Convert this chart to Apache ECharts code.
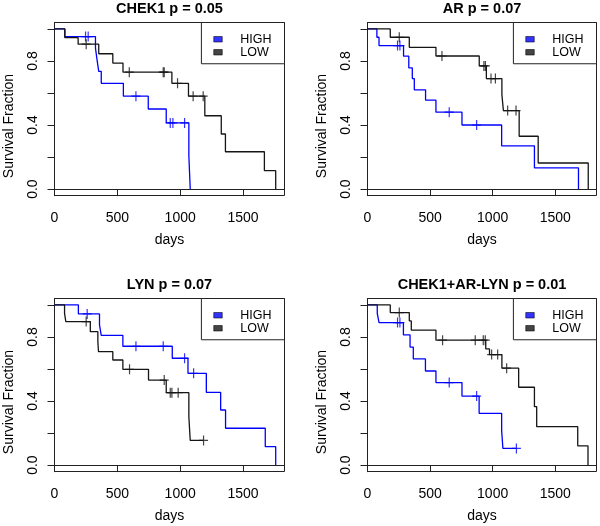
<!DOCTYPE html>
<html><head><meta charset="utf-8">
<script src="https://cdn.jsdelivr.net/npm/echarts@6/dist/echarts.min.js"></script>
<style>html,body{margin:0;padding:0;background:#fff}#c{width:600px;height:526px}</style>
</head><body><div id="c"></div>
<script>
// ---- data (days, survival fraction, censor times) ----
const chek1HighTime = [0, 82, 326, 338, 352, 372, 548, 746, 889, 1069, 1080];
const chek1HighSurv = [1, 0.952, 0.88, 0.81, 0.735, 0.66, 0.58, 0.50, 0.413, 0.208, 0];
const chek1HighCens = [247, 268, 648, 921, 942, 1035];
const chek1LowTime = [0, 82, 188, 352, 464, 545, 934, 1066, 1196, 1327, 1360, 1670, 1760];
const chek1LowSurv = [1, 0.945, 0.905, 0.845, 0.787, 0.73, 0.66, 0.58, 0.458, 0.344, 0.233, 0.115, 0];
const chek1LowCens = [252, 595, 865, 873, 979, 1103, 1183];

const arHighTime = [0, 75, 92, 288, 330, 358, 374, 464, 547, 755, 1072, 1334, 1686];
const arHighSurv = [1, 0.948, 0.896, 0.83, 0.757, 0.69, 0.62, 0.555, 0.48, 0.40, 0.27, 0.133, 0];
const arHighCens = [240, 259, 653, 872];
const arLowTime = [0, 182, 334, 547, 893, 950, 1074, 1086, 1212, 1364, 1764];
const arLowSurv = [1, 0.948, 0.885, 0.831, 0.769, 0.69, 0.59, 0.49, 0.33, 0.163, 0];
const arLowCens = [254, 595, 930, 942, 987, 1022, 1120, 1187];

const lynHighTime = [0, 190, 358, 372, 544, 937, 1062, 1208, 1322, 1361, 1677, 1760];
const lynHighSurv = [1, 0.944, 0.875, 0.81, 0.742, 0.667, 0.573, 0.454, 0.344, 0.23, 0.115, 0];
const lynHighCens = [260, 648, 865, 1035, 1107];
const lynLowTime = [0, 80, 90, 285, 345, 350, 464, 544, 748, 889, 1069, 1080, 1186];
const lynLowSurv = [1, 0.947, 0.896, 0.833, 0.77, 0.708, 0.656, 0.598, 0.531, 0.452, 0.302, 0.154, 0.154];
const lynLowCens = [252, 597, 873, 921, 934, 984, 1186];

const comboHighTime = [0, 78, 92, 287, 340, 366, 463, 547, 755, 892, 1072, 1082, 1190];
const comboHighSurv = [1, 0.947, 0.89, 0.8125, 0.737, 0.6625, 0.5875, 0.515, 0.431, 0.323, 0.215, 0.104, 0.104];
const comboHighCens = [240, 259, 653, 872, 1190];
const comboLowTime = [0, 182, 334, 350, 547, 945, 975, 1074, 1208, 1334, 1352, 1680, 1762];
const comboLowSurv = [1, 0.952, 0.9, 0.842, 0.78, 0.725, 0.69, 0.605, 0.486, 0.365, 0.24, 0.12, 0];
const comboLowCens = [254, 600, 861, 925, 941, 992, 1040, 1112];

const panelTitles = ['CHEK1 p = 0.05', 'AR p = 0.07', 'LYN p = 0.07', 'CHEK1+AR-LYN p = 0.01'];
const groupNames = ['HIGH', 'LOW'];
const xTicks = [0, 500, 1000, 1500];
const yTicks = [0, 0.2, 0.4, 0.6, 0.8, 1.0];
const yTickLabels = [0, 0.4, 0.8];
const xName = 'days';
const yName = 'Survival Fraction';

// ---- layout / style ----
const FONT = '"Liberation Sans", Arial, Helvetica, sans-serif';
const colors = ['#0000ff', '#151515'];
const grids = [
  {left: 54.5, top: 22.5, width: 230, height: 173},
  {left: 367.5, top: 22.5, width: 229, height: 173},
  {left: 54.5, top: 298.5, width: 230, height: 173},
  {left: 367.5, top: 298.5, width: 229, height: 173}
];
const panelData = [
  [[chek1HighTime, chek1HighSurv, chek1HighCens], [chek1LowTime, chek1LowSurv, chek1LowCens]],
  [[arHighTime, arHighSurv, arHighCens], [arLowTime, arLowSurv, arLowCens]],
  [[lynHighTime, lynHighSurv, lynHighCens], [lynLowTime, lynLowSurv, lynLowCens]],
  [[comboHighTime, comboHighSurv, comboHighCens], [comboLowTime, comboLowSurv, comboLowCens]]
];
const crossPath = 'path://M3.9,0H5.1V4.4H9V5.6H5.1V10H3.9V5.6H0V4.4H3.9Z';

function pairs(t, s) { return t.map((v, i) => [v, s[i]]); }
function survAt(t, s, x) { let v = s[0]; for (let i = 0; i < t.length; i++) { if (t[i] <= x) v = s[i]; } return v; }

const option = {
  animation: false,
  backgroundColor: '#fff',
  title: [], grid: [], xAxis: [], yAxis: [], legend: [], series: []
};

grids.forEach((g, i) => {
  option.grid.push(Object.assign({show: true, borderColor: '#222', borderWidth: 1, backgroundColor: 'transparent', outerBoundsMode: 'none', containLabel: false}, g));
  option.title.push({
    text: panelTitles[i], left: g.left + g.width / 2, top: g.top - 21.5, textAlign: 'center', padding: 0,
    textStyle: {fontFamily: FONT, fontSize: 14.5, fontWeight: 'bold', color: '#000'}
  });
  option.xAxis.push({
    gridIndex: i, type: 'value', min: 0, max: 1830,
    axisLine: {show: true, lineStyle: {color: '#222', width: 1}},
    splitLine: {show: false},
    axisTick: {show: true, length: 7, customValues: xTicks, lineStyle: {color: '#222', width: 1}},
    axisLabel: {customValues: xTicks, fontFamily: FONT, fontSize: 14, color: '#000', margin: 16,
      formatter: v => String(Math.round(v))},
    name: xName, nameLocation: 'middle', nameGap: 38,
    nameTextStyle: {fontFamily: FONT, fontSize: 14, color: '#000'}
  });
  option.yAxis.push({
    gridIndex: i, type: 'value', min: -0.04, max: 1.04,
    axisLine: {show: true, lineStyle: {color: '#222', width: 1}},
    splitLine: {show: false},
    axisTick: {show: true, length: 7, customValues: yTicks, lineStyle: {color: '#222', width: 1}},
    axisLabel: {customValues: yTickLabels, rotate: 90, fontFamily: FONT, fontSize: 14, color: '#000', margin: 14,
      formatter: v => Number(v).toFixed(1)},
    name: yName, nameLocation: 'middle', nameGap: 38,
    nameTextStyle: {fontFamily: FONT, fontSize: 14, color: '#000', padding: [0, 34, 0, 0]}
  });
  option.legend.push({
    orient: 'vertical', right: 600 - (g.left + g.width), top: g.top,
    data: groupNames, icon: 'rect', itemWidth: 8.5, itemHeight: 5.5, itemGap: 0,
    padding: [10.25, 13, 5, 12], borderColor: '#222', borderWidth: 1, backgroundColor: '#fff',
    selectedMode: false,
    itemStyle: {borderColor: '#000', borderWidth: 0.7},
    textStyle: {fontFamily: FONT, fontSize: 12.5, lineHeight: 11.5, color: '#000', padding: [0, 0, 0, 13]}
  });
  panelData[i].forEach((d, k) => {
    const [t, s, c] = d;
    option.series.push({
      name: groupNames[k] + ' curve', type: 'line', xAxisIndex: i, yAxisIndex: i,
      data: pairs(t, s), step: 'end', symbol: 'none', silent: true,
      lineStyle: {color: colors[k], width: 1.3}, itemStyle: {color: colors[k]}
    });
    option.series.push({
      name: groupNames[k], type: 'scatter', xAxisIndex: i, yAxisIndex: i,
      data: c.map(x => [x, survAt(t, s, x)]), symbol: crossPath, symbolSize: [9, 10], silent: true,
      itemStyle: {color: colors[k]}
    });
  });
});

const chart = echarts.init(document.getElementById('c'), null, {renderer: 'canvas'});
chart.setOption(option);
</script></body></html>
